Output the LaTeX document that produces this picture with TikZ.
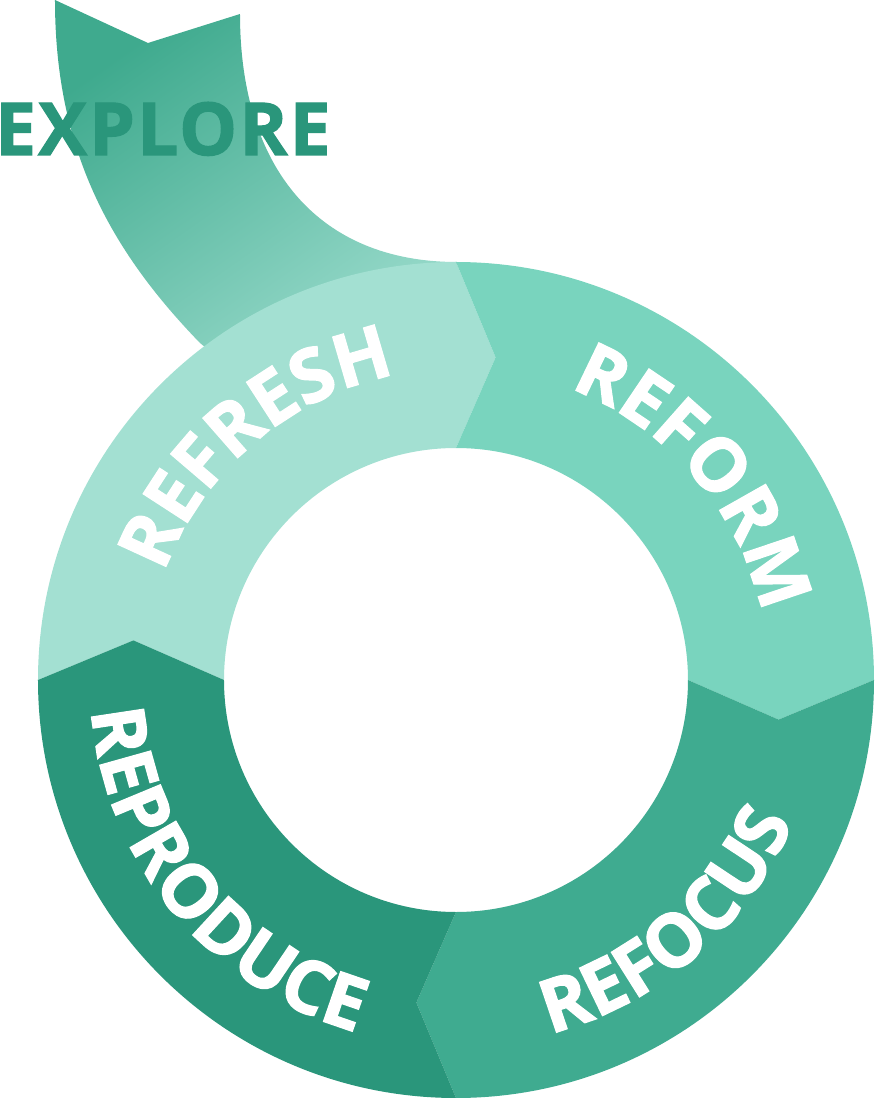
\documentclass[tikz,border=0pt]{standalone}
\usepackage{fontspec}
\usetikzlibrary{decorations.text}
\definecolor{refresh}{HTML}{A3E0D2}
\definecolor{reform}{HTML}{79D4BE}
\definecolor{refocus}{HTML}{3FAB90}
\definecolor{reproduce}{HTML}{2A967B}
\definecolor{tailtop}{HTML}{3FAA8E}
\newfontfamily\ringfont[LetterSpace=6,FakeBold=1.6]{Open Sans Bold}
\newfontfamily\titlefont[LetterSpace=3,FakeBold=1.6]{Open Sans Bold}

\begin{document}
\begin{tikzpicture}[x=1pt,y=1pt,
    ringtext/.style={decorate,decoration={text along path,text align=center,text color=white,
        text={|\ringfont\fontsize{74}{74}\selectfont|#1}}}]
        \useasboundingbox (-456,-418) rectangle (419,680);
        % tail coming down into the ring
        \shade[top color=tailtop,bottom color=refresh,shading angle=35] (-401,680) -- (-308,637) -- (-216,666)
            .. controls (-216,510) and (-136,418) .. (1,418) -- (0,380) -- (-150,250) -- (-256,337)
            .. controls (-346,430) and (-401,530) .. (-401,680) -- cycle;
        % ring of four arrow segments
        \foreach \a/\c in {180/refresh,90/reform,0/refocus,270/reproduce}
            \fill[\c] (\a:418) arc[start angle=\a,end angle=\a-90,radius=418] -- ({\a-97}:325)
                -- ({\a-90}:232) arc[start angle=\a-90,end angle=\a,radius=232] -- ({\a-7}:325) -- cycle;
        \path[ringtext=REFRESH] (181:311) arc[start angle=181,end angle=80,radius=311];
        \path[ringtext=REFORM] (90:313) arc[start angle=90,end angle=-9,radius=313];
        \path[ringtext=REFOCUS] (-99:366) arc[start angle=-99,end angle=1,radius=366];
        \path[ringtext=REPRODUCE] (169:366) arc[start angle=169,end angle=270,radius=366];
        \node[anchor=base west,inner sep=0pt,text=reproduce,font=\titlefont\fontsize{73}{73}\selectfont] (explore) at (-461,525) {EXPLORE};
\end{tikzpicture}
\end{document}
